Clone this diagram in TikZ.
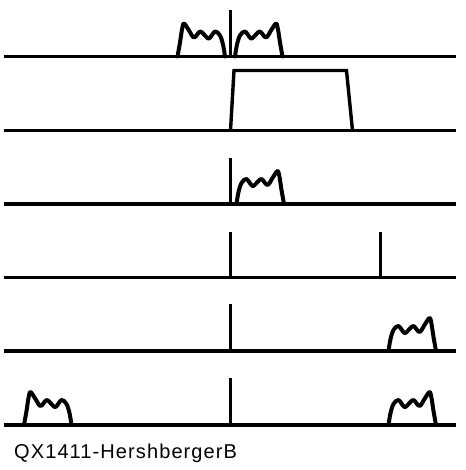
\documentclass[tikz,border=0pt]{standalone}
\usepackage{fontspec}
\usepackage{tikz}
\usetikzlibrary{positioning}
\newfontfamily\capfont[LetterSpace=5.5]{Liberation Sans}
\tikzset{
  axis/.style={draw=black,line width=3.4pt},
  marker/.style={draw=black,line width=3.4pt},
  passband/.style={draw=black,line width=3.4pt,line join=miter},
  spec/.style={draw=black,line width=4pt,line join=round,line cap=round},
  caption/.style={anchor=base west,inner sep=0pt,font=\capfont\fontsize{20}{24}\selectfont},
  pics/band/.style={code={
    \draw[spec] plot[smooth,tension=0.55] coordinates
      {(0,0) (2,12) (5,21) (10,25) (16,18) (21,22) (25,25) (31,19) (36,26) (41,33) (43,27) (45,14) (47.5,0)};
  }}
}

\begin{document}
\begin{tikzpicture}[x=1pt,y=1pt]
  \useasboundingbox (0,0) rectangle (465,470);
  % baselines, one per row
  \foreach \y [count=\i] in {413.5,339.5,266,192.5,119,45} {
    \coordinate (l\i) at (3.5,\y);
    \coordinate (r\i) at (456,\y);
    \coordinate (z\i) at (230.5,\y);
    \draw[axis] (l\i) -- (r\i);
  }
  % row 1
  \draw[marker] (z1) -- ++(0,46);
  \pic[xscale=-1] at (225,413.5) {band};
  \pic at (235,413.5) {band};
  % row 2
  \draw[passband] (z2) -- ++(3.5,60) -- ++(112.5,0) -- ++(6,-60);
  % row 3
  \draw[marker] (z3) -- ++(0,46);
  \pic at (236.5,266) {band};
  % row 4
  \coordinate (f4) at (380.5,192.5);
  \draw[marker] (z4) -- ++(0,45);
  \draw[marker] (f4) -- ++(0,45);
  % row 5
  \draw[marker] (z5) -- ++(0,47);
  \pic at (388.5,119) {band};
  % row 6
  \draw[marker] (z6) -- ++(0,47);
  \pic[xscale=-1] at (71.5,45) {band};
  \pic at (388.5,45) {band};

  \node[caption] (tag) at (14,12) {QX1411-HershbergerB};
\end{tikzpicture}
\end{document}
